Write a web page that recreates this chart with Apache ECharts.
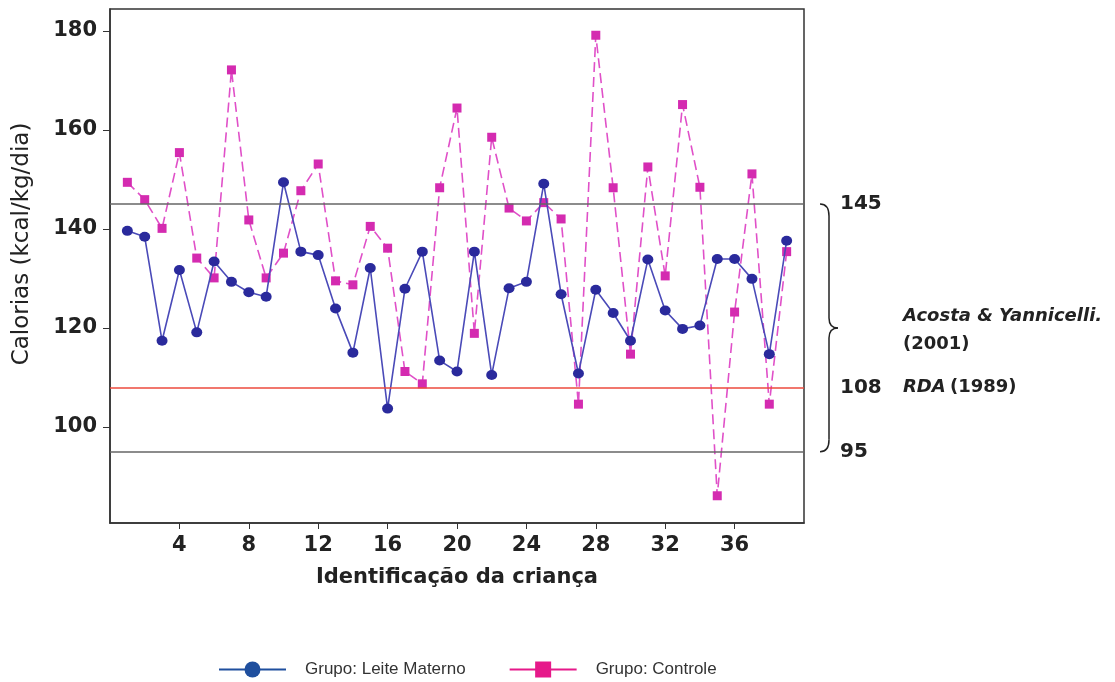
<!DOCTYPE html>
<html lang="pt">
<head>
<meta charset="utf-8" />
<title>Calorias por criança</title>
<script src="https://cdn.jsdelivr.net/npm/echarts@6/dist/echarts.min.js"></script>
</head>
<body style="margin:0;background:#fff">
<div id="chart" style="width:1115px;height:682px"></div>
<script>
// identificação da criança 1..39
const criancas = [1,2,3,4,5,6,7,8,9,10,11,12,13,14,15,16,17,18,19,20,21,22,23,24,25,26,27,28,29,30,31,32,33,34,35,36,37,38,39]
const leiteMaterno = [139.6,138.4,117.4,131.7,119.1,133.4,129.3,127.2,126.3,149.4,135.4,134.7,123.9,115.0,132.1,103.7,127.9,135.4,113.4,111.2,135.4,110.5,128.0,129.3,149.1,126.8,110.8,127.7,123.0,117.4,133.8,123.5,119.8,120.5,133.9,133.9,129.9,114.7,137.6]
const controle = [149.4,145.9,140.1,155.4,134.1,130.1,172.1,141.8,130.1,135.1,147.7,153.1,129.5,128.7,140.5,136.1,111.2,108.7,148.3,164.4,118.9,158.5,144.2,141.6,145.3,142.0,104.6,179.1,148.3,114.7,152.5,130.5,165.1,148.4,86.1,123.2,151.1,104.6,135.4]
const yTicks = [100,120,140,160,180]
const xTicks = [4,8,12,16,20,24,28,32,36]
const refLinhas = [145,108,95]

const font = 'DejaVu Sans'
let chart = echarts.init(document.getElementById('chart'))

let yName = {
  type: 'text', x: 22, y: 244, rotation: Math.PI / 2,
  style: { text: 'Calorias (kcal/kg/dia)', fontFamily: font, fontSize: 23, fill: '#222', align: 'center', verticalAlign: 'middle' }
}

let option = {
  animation: false,
  grid: { left: 110, right: 311, top: 9, bottom: 159, show: true, borderColor: '#333', borderWidth: 1.5 },
  xAxis: {
    type: 'value', min: 0, max: 40,
    name: 'Identificação da criança', nameLocation: 'middle', nameGap: 44,
    nameTextStyle: { fontFamily: font, fontWeight: 'bold', fontSize: 21, color: '#222' },
    axisLine: { lineStyle: { color: '#333', width: 1.5 } },
    axisTick: { customValues: xTicks, length: 6, lineStyle: { color: '#333' } },
    axisLabel: { customValues: xTicks, fontFamily: font, fontWeight: 'bold', fontSize: 21, color: '#222', margin: 12 },
    splitLine: { show: false }
  },
  yAxis: {
    type: 'value', min: 80.6, max: 184.4,
    axisLine: { show: true, lineStyle: { color: '#333', width: 1.5 } },
    axisTick: { show: true, customValues: yTicks, length: 7, lineStyle: { color: '#333' } },
    axisLabel: { customValues: yTicks, fontFamily: font, fontWeight: 'bold', fontSize: 21, color: '#222', margin: 13 },
    splitLine: { show: false }
  },
  legend: {
    left: 213, top: 656,
    itemWidth: 67, itemHeight: 20, itemGap: 43,
    textStyle: { fontFamily: 'Liberation Sans', fontSize: 17, color: '#333', padding: [0, 0, 0, 14] },
    lineStyle: { type: 'solid', width: 2 },
    data: [
      { name: 'Grupo: Leite Materno', itemStyle: { color: '#1f4f9e' }, lineStyle: { color: '#1f4f9e', type: 'solid' } },
      { name: 'Grupo: Controle', itemStyle: { color: '#e6198a' }, lineStyle: { color: '#e6198a', type: 'solid' } }
    ]
  },
  graphic: [yName],
  series: [
    {
      name: 'Grupo: Controle', type: 'line', z: 2,
      data: criancas.map((c, i) => [c, controle[i]]),
      symbol: 'rect', symbolSize: 9,
      itemStyle: { color: '#d42bb0' },
      lineStyle: { color: '#e050c8', width: 1.6, type: [10, 5] },
      markLine: {
        silent: true, symbol: 'none', label: { show: false },
        data: refLinhas.map(v => ({ yAxis: v, lineStyle: { color: v === 108 ? '#ec4a3c' : '#666', width: 1.6, type: 'solid' } }))
      }
    },
    {
      name: 'Grupo: Leite Materno', type: 'line', z: 3,
      data: criancas.map((c, i) => [c, leiteMaterno[i]]),
      symbol: 'circle', symbolSize: [11, 10],
      itemStyle: { color: '#2a2a9c' },
      lineStyle: { color: '#4a4ab8', width: 1.6 }
    }
  ]
}
chart.setOption(option)

// chave e rótulos à direita, posicionados pelo eixo
let pTop = chart.convertToPixel({ gridIndex: 0 }, [40, 145])
let pMid = chart.convertToPixel({ gridIndex: 0 }, [40, 108])
let pBot = chart.convertToPixel({ gridIndex: 0 }, [40, 95])
let xb = pTop[0] + 16
let t = pTop[1], b = pBot[1], m = (t + b) / 2
let xc = xb + 9, xp = xb + 18
let braceStyle = { stroke: '#222', lineWidth: 1.5, fill: 'none' }
let curve = (x1, y1, cx, cy, x2, y2) => ({ type: 'bezierCurve', shape: { x1: x1, y1: y1, cpx1: cx, cpy1: cy, x2: x2, y2: y2 }, style: braceStyle })
let seg = (x1, y1, x2, y2) => ({ type: 'line', shape: { x1: x1, y1: y1, x2: x2, y2: y2 }, style: braceStyle })
let txt = (x, y, s, extra) => ({ type: 'text', x: x, y: y, style: Object.assign({ text: s, fontFamily: font, fontWeight: 'bold', fontSize: 20, fill: '#222', verticalAlign: 'middle' }, extra || {}) })
let lx = pTop[0] + 36
chart.setOption({
  graphic: [
    yName,
    curve(xb, t, xc, t, xc, t + 12),
    seg(xc, t + 12, xc, m - 10),
    curve(xc, m - 10, xc, m, xp, m),
    curve(xp, m, xc, m, xc, m + 10),
    seg(xc, m + 10, xc, b - 12),
    curve(xc, b - 12, xc, b, xb, b),
    txt(lx, pTop[1], '145'),
    txt(lx, pMid[1], '108'),
    txt(lx, pBot[1], '95'),
    txt(lx + 63, m - 12, 'Acosta & Yannicelli.', { fontStyle: 'italic', fontSize: 18 }),
    txt(lx + 63, m + 16, '(2001)', { fontSize: 18 }),
    txt(lx + 63, pMid[1], 'RDA', { fontStyle: 'italic', fontSize: 18 }),
    txt(lx + 110, pMid[1], '(1989)', { fontSize: 18 })
  ]
})
</script>
</body>
</html>
